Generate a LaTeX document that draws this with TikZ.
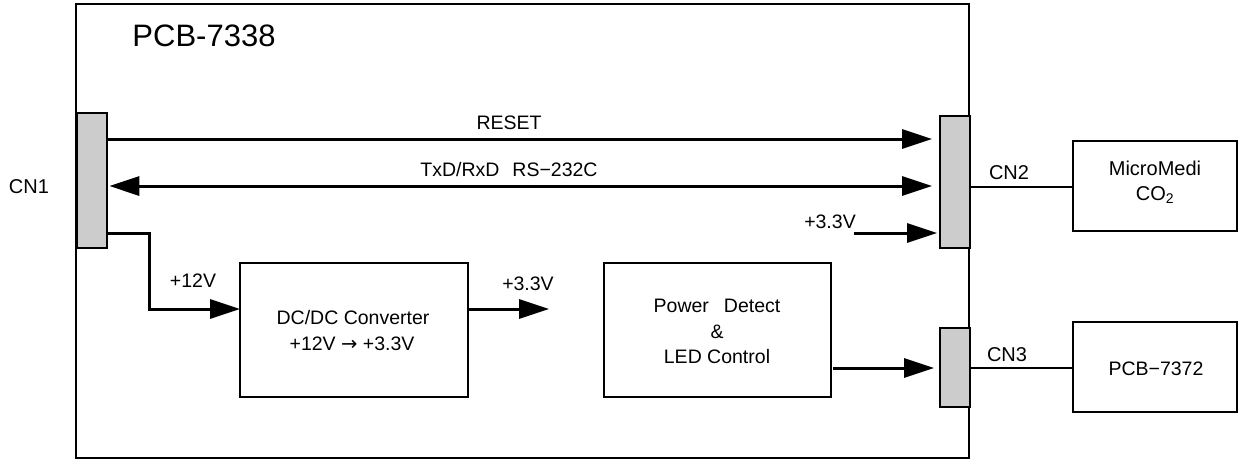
\documentclass[tikz,border=0pt]{standalone}
\usepackage{fontspec}
\setmainfont{Liberation Sans}
\newfontfamily\dejavu{DejaVu Sans}
\usetikzlibrary{arrows.meta}
\definecolor{cngray}{RGB}{204,204,204}
\begin{document}
\begin{tikzpicture}[x=1pt,y=-1pt,
  box/.style={draw, line width=1.8pt, inner sep=0pt, outer sep=0pt, anchor=north west},
  cnbox/.style={draw, fill=cngray, line width=1.5pt, inner sep=0pt, outer sep=0pt, anchor=north west, minimum width=30pt},
  arr/.style={line width=3pt, -{Triangle[length=30pt,width=19pt]}},
  darr/.style={line width=3pt, {Triangle[length=30pt,width=19pt]}-{Triangle[length=30pt,width=19pt]}},
  thinline/.style={line width=1.3pt},
  lab/.style={anchor=base, inner sep=0pt, font=\fontsize{19.5}{22}\selectfont},
  alab/.style={anchor=base, inner sep=0pt, font=\fontsize{20}{24}\selectfont}]
\useasboundingbox (0,0) rectangle (1239,459);
% board
\node[box, minimum width=893pt, minimum height=454pt] (board) at (76,4) {};
% blocks
\node[box, minimum width=228pt, minimum height=134pt] (dcdc) at (240,263) {};
\node[box, minimum width=227pt, minimum height=134pt] (power) at (604,263) {};
\node[box, minimum width=164pt, minimum height=90pt] (micro) at (1073,141) {};
\node[box, minimum width=164pt, minimum height=90pt] (pcbb) at (1073,322) {};
% connectors
\node[cnbox, minimum height=135pt] (cn1) at (77,113) {};
\node[cnbox, minimum height=132pt] (cn2) at (940,116) {};
\node[cnbox, minimum height=79pt] (cn3) at (940,328) {};
% free ends
\coordinate (v33end) at (549,309);
\coordinate (v33start) at (853.7,233);
\coordinate (bend1) at (149.5,233);
\coordinate (bend2) at (149.5,309);
% arrows
\draw[arr, shorten >=8pt] (cn1.east |- 0,139) -- (cn2.west |- 0,139);
\draw[darr, shorten <=2.3pt, shorten >=8pt] (cn1.east |- 0,186) -- (cn2.west |- 0,186);
\draw[arr] (cn1.east |- bend1) -- (bend1) -- (bend2) -- (dcdc.west |- bend2);
\draw[arr] (dcdc.east |- v33end) -- (v33end);
\draw[arr, shorten >=3pt] (v33start) -- (cn2.west |- v33start);
\draw[arr, shorten <=2pt, shorten >=6pt] (power.east |- 0,368) -- (cn3.west |- 0,368);
\draw[thinline] (cn2.east |- 0,187) -- (micro.west |- 0,187);
\draw[thinline] (cn3.east |- 0,368) -- (pcbb.west |- 0,368);
% labels
\node[anchor=base, inner sep=0pt, font=\fontsize{31}{36}\selectfont] (title) at (204,46.5) {PCB-7338};
\node[alab] (cn1l) at (29,193) {CN1};
\node[alab] (cn2l) at (1009,179) {CN2};
\node[alab] (cn3l) at (1007,361) {CN3};
\node[lab] (reset) at (509,129) {RESET};
\node[lab] (txd) at (509,176.5) {TxD/RxD\hspace{13pt}RS−232C};
\node[lab] (v12) at (193,287) {+12V};
\node[lab] (v33a) at (528,290) {+3.3V};
\node[lab] (v33b) at (830,228) {+3.3V};
\node[lab] (dc1) at (353,324.3) {DC/DC Converter};
\node[lab] (dc2) at (352,350) {+12V {\dejavu →} +3.3V};
\node[lab] (pw1) at (717,312) {Power\hspace{15pt}Detect};
\node[lab] (pw2) at (717,338) {\&};
\node[lab] (pw3) at (717,363) {LED Control};
\node[alab] (mm1) at (1155,175) {MicroMedi};
\node[alab] (mm2) at (1155,200) {CO\textsubscript{2}};
\node[lab] (pcbt) at (1156,375) {PCB−7372};
\end{tikzpicture}
\end{document}
